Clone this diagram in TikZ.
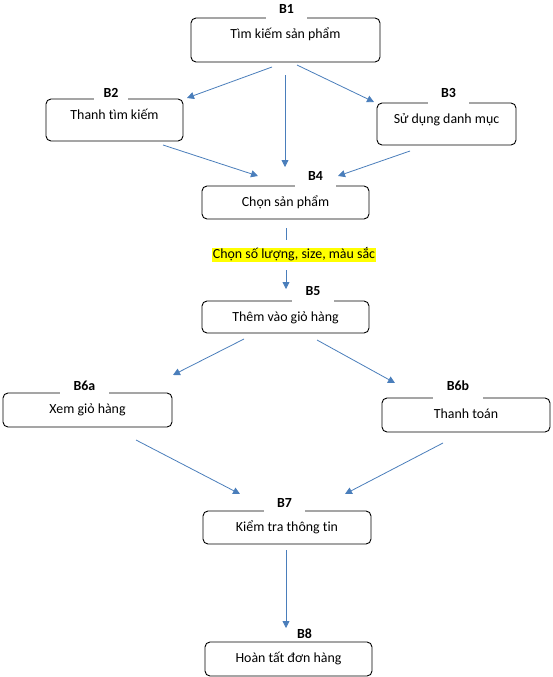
\documentclass[tikz,border=0pt]{standalone}
\usepackage{fontspec}
\setmainfont[Ligatures=NoCommon]{Carlito}
\usetikzlibrary{arrows.meta,calc}
\definecolor{arrblue}{RGB}{74,126,187}
\definecolor{hl}{RGB}{255,255,0}
\tikzset{
  box/.style={draw=black, line width=0.9pt, rounded corners=5pt, inner sep=0pt},
  txt/.style={font=\fontsize{13.9}{16}\selectfont, anchor=base, inner sep=0pt},
  lbl/.style={font=\fontsize{13.9}{16}\bfseries\selectfont, fill=white, inner sep=0pt},
  arr/.style={draw=arrblue, line width=0.8pt, -{Triangle[length=7pt,width=7pt]}},
  seg/.style={draw=arrblue, line width=0.8pt},
}
\newcommand{\stepbox}[6]{% name, x1, y1, x2, y2, text
  \node[box, minimum width={#4-#2}, minimum height={#5-#3}] (#1) at ({(#2+#4)/2},{(#3+#5)/2}) {};
  \node[txt] (#1t) at ({(#2+#4)/2},{#3+20.5}) {#6};
}
\newcommand{\steplbl}[6]{% name, gx1, gx2, top, dy, text
  \node[lbl, minimum width={#3-#2}, minimum height={2*#5+2}] (#1) at ({(#2+#3)/2},{#4-#5}) {#6};
}
\begin{document}
\begin{tikzpicture}[x=1pt,y=-1pt]
\useasboundingbox (0,0) rectangle (553,677);
% boxes
\stepbox{b1}{191}{18}{380}{62}{Tìm kiếm sản phẩm}
\stepbox{b2}{46}{99}{183}{141}{Thanh tìm kiếm}
\stepbox{b3}{377}{103}{516}{145}{Sử dụng danh mục}
\stepbox{b4}{202}{186}{369}{219}{Chọn sản phẩm}
\stepbox{b5}{202}{301}{369}{333}{Thêm vào giỏ hàng}
\stepbox{b6a}{3}{393}{172}{427}{Xem giỏ hàng}
\stepbox{b6b}{382}{398}{550}{432}{Thanh toán}
\stepbox{b7}{203}{511}{371}{544}{Kiểm tra thông tin}
\stepbox{b8}{205}{642}{372}{676}{Hoàn tất đơn hàng}
% labels
\steplbl{l1}{266}{307}{18}{9.5}{B1}
\steplbl{l2}{94}{128}{99}{6}{B2}
\steplbl{l3}{428}{469}{103}{10}{B3}
\steplbl{l4}{295}{336}{186}{10.5}{B4}
\steplbl{l5}{292}{334}{301}{9.5}{B5}
\steplbl{l6a}{60}{109}{393}{7.5}{B6a}
\steplbl{l6b}{433}{483}{398}{12.5}{B6b}
\steplbl{l7}{264}{305}{511}{8}{B7}
\node[font=\fontsize{13.9}{16}\bfseries\selectfont, inner sep=0pt] (l8) at (304.5,634) {B8};
% highlighted condition
\node[font=\fontsize{13.9}{16}\selectfont, fill=hl, anchor=base, inner xsep=0.5pt, inner ysep=0pt, text height=10.5pt, text depth=3.5pt] (cond) at (294,258.5) {Chọn số lượng, size, màu sắc};
% coordinates
\coordinate (s1) at (272,67);  \coordinate (t1) at (187,98);
\coordinate (s2) at (285,75);  \coordinate (t2) at (285,167);
\coordinate (s3) at (297,65);  \coordinate (t3) at (374,102);
\coordinate (s4) at (163,145); \coordinate (t4) at (258,176);
\coordinate (s5) at (410,151); \coordinate (t5) at (338,176);
\coordinate (s6) at (286,228); \coordinate (m6) at (286,240);
\coordinate (n6) at (286,270); \coordinate (t6) at (286,289);
\coordinate (s7) at (244,339); \coordinate (t7) at (173,375);
\coordinate (s8) at (317,340); \coordinate (t8) at (395,383);
\coordinate (s9) at (136,440); \coordinate (t9) at (240,494);
\coordinate (s10) at (443,443); \coordinate (t10) at (345,494);
\coordinate (s11) at (286,550); \coordinate (t11) at (286,628);
% connectors
\draw[arr] (s1) -- (t1);
\draw[arr] (s2) -- (t2);
\draw[arr] (s3) -- (t3);
\draw[arr] (s4) -- (t4);
\draw[arr] (s5) -- (t5);
\draw[seg] (s6) -- (m6);
\draw[arr] (n6) -- (t6);
\draw[arr] (s7) -- (t7);
\draw[arr] (s8) -- (t8);
\draw[arr] (s9) -- (t9);
\draw[arr] (s10) -- (t10);
\draw[arr] (s11) -- (t11);
\end{tikzpicture}
\end{document}
